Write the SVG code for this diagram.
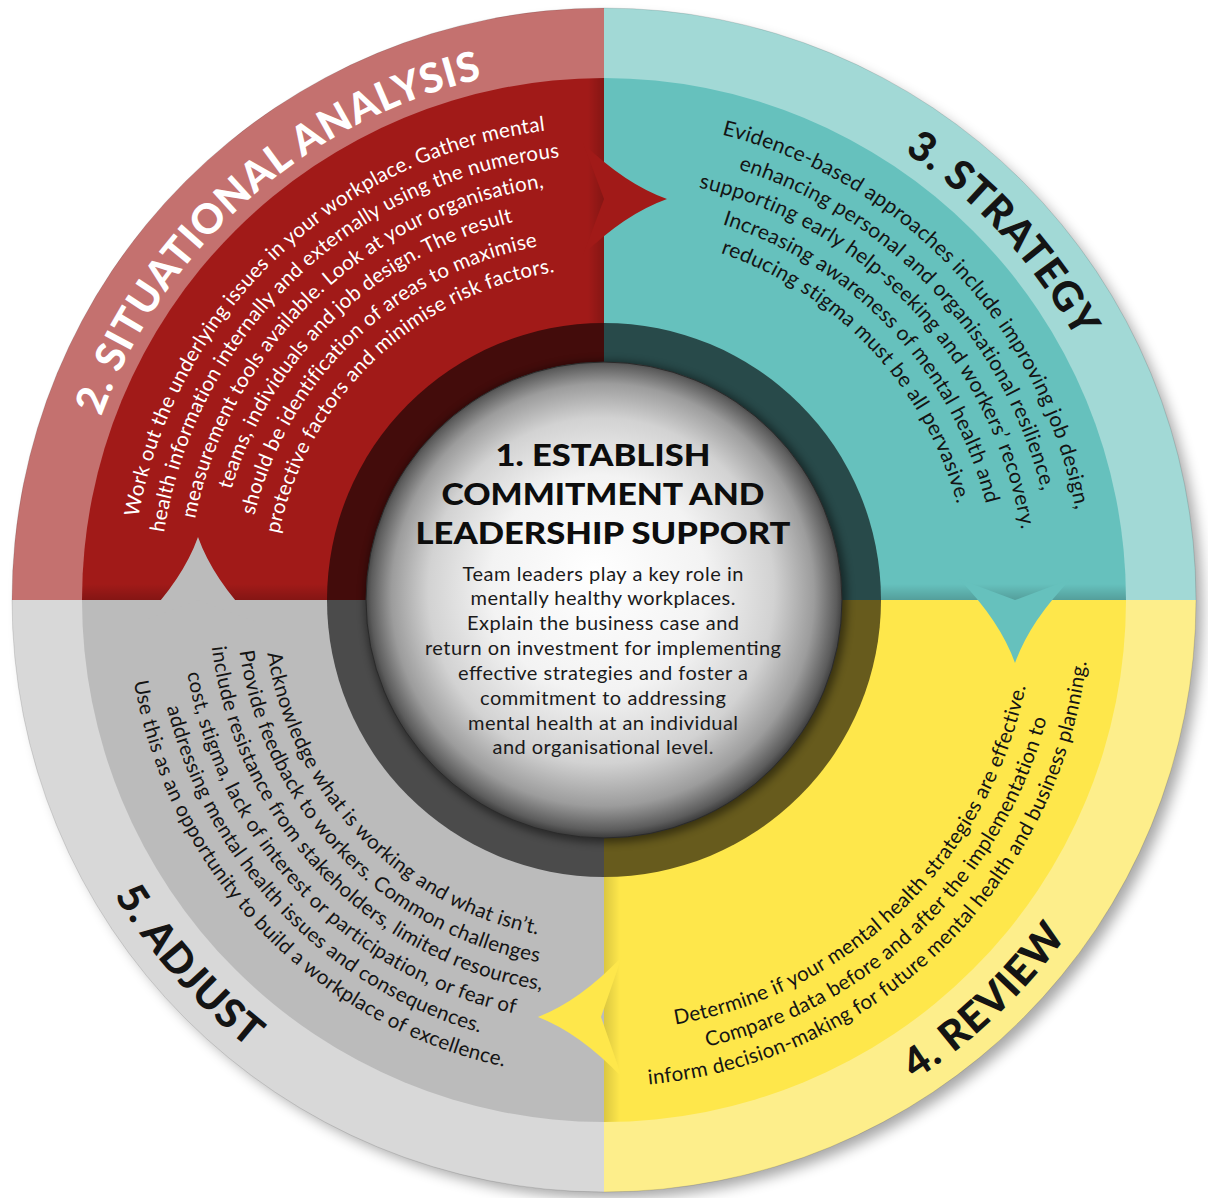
<svg xmlns="http://www.w3.org/2000/svg" width="1208" height="1198" viewBox="0 0 1208 1198">
<defs>
<style>
.body{font-family:Lato,"Open Sans",sans-serif;font-size:20.5px;letter-spacing:0.3px;text-anchor:middle}
.tb{font-size:21px}
.title{font-family:Lato,"Open Sans",sans-serif;font-weight:900;font-size:41px;text-anchor:middle;letter-spacing:1px}
.white{fill:#ffffff}
.ink{fill:#141414}
.hd{font-family:Lato,"Open Sans",sans-serif;font-weight:900;font-size:31px;text-anchor:middle;fill:#0d0d0d}
.cb{font-family:Lato,"Open Sans",sans-serif;font-size:20px;text-anchor:middle;fill:#1a1a1a}
</style>
<filter id="drop" x="-10%" y="-10%" width="125%" height="125%">
<feGaussianBlur stdDeviation="7"/>
</filter>
<filter id="soft" x="-10%" y="-10%" width="120%" height="120%">
<feGaussianBlur stdDeviation="4"/>
</filter>
<clipPath id="cMain"><circle cx="604" cy="600" r="522"/></clipPath>
<linearGradient id="shR" x1="0" y1="0" x2="1" y2="0"><stop offset="0" stop-color="#000" stop-opacity="0"/><stop offset="1" stop-color="#000" stop-opacity="0.18"/></linearGradient>
<linearGradient id="shL" x1="0" y1="0" x2="1" y2="0"><stop offset="0" stop-color="#000" stop-opacity="0.14"/><stop offset="1" stop-color="#000" stop-opacity="0"/></linearGradient>
<linearGradient id="shD" x1="0" y1="0" x2="0" y2="1"><stop offset="0" stop-color="#000" stop-opacity="0"/><stop offset="1" stop-color="#000" stop-opacity="0.18"/></linearGradient>
<radialGradient id="ball" gradientUnits="userSpaceOnUse" cx="604" cy="598" r="240" fx="594" fy="572">
<stop offset="0" stop-color="#ffffff"/>
<stop offset="0.45" stop-color="#f3f3f3"/>
<stop offset="0.72" stop-color="#d2d2d2"/>
<stop offset="0.88" stop-color="#9c9c9c"/>
<stop offset="0.97" stop-color="#5c5c5c"/>
<stop offset="1" stop-color="#3a3a3a"/>
</radialGradient>
<path id="arrow" d="M-84,-56 Q-42,-15 0,0 Q-42,15 -84,56 L-63,0 Z"/>
<!-- red body arcs (outward) -->
<path id="r1" d="M-471.2,-41.2 A473,473 0 0 1 471.2,-41.2"/>
<path id="r2" d="M-443.3,-38.8 A445,445 0 0 1 443.3,-38.8"/>
<path id="r3" d="M-415.4,-36.3 A417,417 0 0 1 415.4,-36.3"/>
<path id="r4" d="M-387.5,-33.9 A389,389 0 0 1 387.5,-33.9"/>
<path id="r5" d="M-358.6,-31.4 A360,360 0 0 1 358.6,-31.4"/>
<path id="r6" d="M-330.7,-28.9 A332,332 0 0 1 330.7,-28.9"/>
<!-- teal body arcs (outward) -->
<path id="t1" d="M-478.2,-41.8 A480,480 0 0 1 478.2,-41.8"/>
<path id="t2" d="M-449.3,-39.3 A451,451 0 0 1 449.3,-39.3"/>
<path id="t3" d="M-421.4,-36.9 A423,423 0 0 1 421.4,-36.9"/>
<path id="t4" d="M-392.5,-34.3 A394,394 0 0 1 392.5,-34.3"/>
<path id="t5" d="M-364.6,-31.9 A366,366 0 0 1 364.6,-31.9"/>
<!-- yellow body arcs (inward) -->
<path id="y1" d="M-428.4,37.5 A430,430 0 0 0 428.4,37.5"/>
<path id="y2" d="M-456.3,39.9 A458,458 0 0 0 456.3,39.9"/>
<path id="y3" d="M-484.2,42.4 A486,486 0 0 0 484.2,42.4"/>
<!-- gray body arcs (inward) -->
<path id="g1" d="M-339.7,29.7 A341,341 0 0 0 339.7,29.7"/>
<path id="g2" d="M-366.6,32.1 A368,368 0 0 0 366.6,32.1"/>
<path id="g3" d="M-393.5,34.4 A395,395 0 0 0 393.5,34.4"/>
<path id="g4" d="M-421.4,36.9 A423,423 0 0 0 421.4,36.9"/>
<path id="g5" d="M-448.3,39.2 A450,450 0 0 0 448.3,39.2"/>
<path id="g6" d="M-475.2,41.6 A477,477 0 0 0 475.2,41.6"/>
<!-- title arcs -->
<path id="tOut1" d="M-533.0,-46.6 A535,535 0 0 1 533.0,-46.6"/>
<path id="tOut2" d="M-537.9,-47.1 A540,540 0 0 1 537.9,-47.1"/>
<path id="tIn" d="M-569.8,49.9 A572,572 0 0 0 569.8,49.9"/>
</defs>

<!-- drop shadow -->
<circle cx="612" cy="608" r="590" fill="#000" opacity="0.35" filter="url(#drop)"/>

<g id="sector-2-situational-analysis">
<path d="M604,600 L12,600 A592,592 0 0 1 604,8 Z" fill="#c4716f"/>
<path d="M604,600 L82,600 A522,522 0 0 1 604,78 Z" fill="#a11a18"/>
</g>
<g id="sector-3-strategy">
<path d="M604,600 L604,8 A592,592 0 0 1 1196,600 Z" fill="#a2d9d6"/>
<path d="M604,600 L604,78 A522,522 0 0 1 1126,600 Z" fill="#66c1bd"/>
</g>
<g id="sector-4-review">
<path d="M604,600 L1196,600 A592,592 0 0 1 604,1192 Z" fill="#fdee8b"/>
<path d="M604,600 L1126,600 A522,522 0 0 1 604,1122 Z" fill="#fee74b"/>
</g>
<g id="sector-5-adjust">
<path d="M604,600 L604,1192 A592,592 0 0 1 12,600 Z" fill="#d8d8d8"/>
<path d="M604,600 L604,1122 A522,522 0 0 1 82,600 Z" fill="#bbbbbb"/>
</g>
<circle cx="604" cy="600" r="592" fill="none" stroke="#000" stroke-opacity="0.12" stroke-width="1"/>

<!-- boundary shading -->
<g clip-path="url(#cMain)">
<rect x="588" y="78" width="16" height="522" fill="url(#shR)"/>
<rect x="82" y="584" width="522" height="16" fill="url(#shD)"/>
<rect x="604" y="584" width="522" height="16" fill="url(#shD)"/>
<rect x="604" y="600" width="16" height="522" fill="url(#shL)"/>
</g>

<g id="connectors">
<use href="#arrow" fill="#a11a18" transform="translate(667,199)"/>
<use href="#arrow" fill="#66c1bd" transform="translate(1015,663) rotate(90)"/>
<use href="#arrow" fill="#fee74b" transform="translate(538,1017) rotate(180) scale(1,1.08)"/>
<use href="#arrow" fill="#bbbbbb" transform="translate(198,537) rotate(-90)"/>
</g>

<g id="inner-ring">
<path d="M604,600 L327,600 A277,277 0 0 1 604,323 Z" fill="#430c0b"/>
<path d="M604,600 L604,323 A277,277 0 0 1 881,600 Z" fill="#284a4a"/>
<path d="M604,600 L881,600 A277,277 0 0 1 604,877 Z" fill="#675b1d"/>
<path d="M604,600 L604,877 A277,277 0 0 1 327,600 Z" fill="#4b4b4b"/>
<circle cx="606" cy="602" r="241" fill="#000" opacity="0.45" filter="url(#soft)"/>
</g>

<g id="node-1-establish">
<circle cx="604" cy="600" r="238" fill="url(#ball)" stroke="#2a2a2a" stroke-width="1"/>
<text class="hd" x="603" y="466" textLength="215" lengthAdjust="spacingAndGlyphs">1. ESTABLISH</text>
<text class="hd" x="603" y="505" textLength="323" lengthAdjust="spacingAndGlyphs">COMMITMENT AND</text>
<text class="hd" x="603" y="544" textLength="375" lengthAdjust="spacingAndGlyphs">LEADERSHIP SUPPORT</text>
<text class="cb" x="603" y="580.5" textLength="281">Team leaders play a key role in</text>
<text class="cb" x="603" y="605" textLength="265">mentally healthy workplaces.</text>
<text class="cb" x="603" y="629.5" textLength="272">Explain the business case and</text>
<text class="cb" x="603" y="654.5" textLength="356">return on investment for implementing</text>
<text class="cb" x="603" y="679.5" textLength="290">effective strategies and foster a</text>
<text class="cb" x="603" y="704.5" textLength="246">commitment to addressing</text>
<text class="cb" x="603" y="729.5" textLength="270">mental health at an individual</text>
<text class="cb" x="603" y="753.5" textLength="221">and organisational level.</text>
</g>

<g id="node-2-situational-analysis">
<g transform="translate(604,600) rotate(-41.5)">
<text class="title white"><textPath href="#tOut1" startOffset="50%">2. SITUATIONAL ANALYSIS</textPath></text>
</g>
<g transform="translate(604,600) rotate(-43.5)">
<text class="body white"><textPath href="#r1" startOffset="50%">Work out the underlying issues in your workplace. Gather mental</textPath></text>
<text class="body white"><textPath href="#r2" startOffset="50%">health information internally and externally using the numerous</textPath></text>
<text class="body white"><textPath href="#r3" startOffset="50%">measurement tools available. Look at your organisation,</textPath></text>
<text class="body white"><textPath href="#r4" startOffset="50%">teams, individuals and job design. The result</textPath></text>
<text class="body white"><textPath href="#r5" startOffset="50%">should be identification of areas to maximise</textPath></text>
<text class="body white"><textPath href="#r6" startOffset="50%">protective factors and minimise risk factors.</textPath></text>
</g>
</g>

<g id="node-3-strategy">
<g transform="translate(604,600) rotate(47.5)">
<text class="title ink"><textPath href="#tOut2" startOffset="50%">3. STRATEGY</textPath></text>
</g>
<g transform="translate(604,600) rotate(46.7)">
<text class="body tb ink"><textPath href="#t1" startOffset="50%">Evidence-based approaches include improving job design,</textPath></text>
<text class="body tb ink"><textPath href="#t2" startOffset="50%">enhancing personal and organisational resilience,</textPath></text>
<text class="body tb ink"><textPath href="#t3" startOffset="50%">supporting early help-seeking and workers’ recovery.</textPath></text>
<text class="body tb ink"><textPath href="#t4" startOffset="50%">Increasing awareness of mental health and</textPath></text>
<text class="body tb ink"><textPath href="#t5" startOffset="50%">reducing stigma must be all pervasive.</textPath></text>
</g>
</g>

<g id="node-4-review">
<g transform="translate(604,600) rotate(-43.5)">
<text class="title ink"><textPath href="#tIn" startOffset="50%">4. REVIEW</textPath></text>
</g>
<g transform="translate(604,600) rotate(-44)">
<text class="body ink"><textPath href="#y1" startOffset="50%">Determine if your mental health strategies are effective.</textPath></text>
<text class="body ink"><textPath href="#y2" startOffset="50%">Compare data before and after the implementation to</textPath></text>
<text class="body ink"><textPath href="#y3" startOffset="50%">inform decision-making for future mental health and business planning.</textPath></text>
</g>
</g>

<g id="node-5-adjust">
<g transform="translate(604,600) rotate(48.6)">
<text class="title ink"><textPath href="#tIn" startOffset="50%">5. ADJUST</textPath></text>
</g>
<g transform="translate(604,600) rotate(46.1)">
<text class="body ink"><textPath href="#g1" startOffset="50%">Acknowledge what is working and what isn’t.</textPath></text>
<text class="body ink"><textPath href="#g2" startOffset="50%">Provide feedback to workers. Common challenges</textPath></text>
<text class="body ink"><textPath href="#g3" startOffset="50%">include resistance from stakeholders, limited resources,</textPath></text>
<text class="body ink"><textPath href="#g4" startOffset="50%">cost, stigma, lack of interest or participation, or fear of</textPath></text>
<text class="body ink"><textPath href="#g5" startOffset="50%">addressing mental health issues and consequences.</textPath></text>
<text class="body ink"><textPath href="#g6" startOffset="50%">Use this as an opportunity to build a workplace of excellence.</textPath></text>
</g>
</g>
</svg>
